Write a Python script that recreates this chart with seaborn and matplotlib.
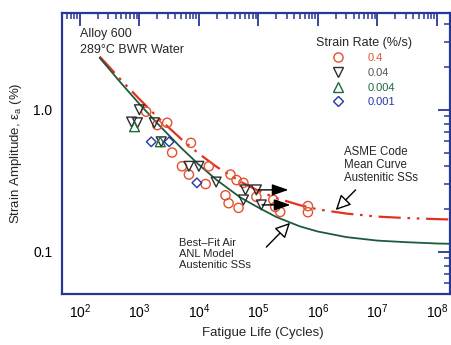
import matplotlib
matplotlib.use("Agg")
import matplotlib.pyplot as plt
import seaborn as sns
import numpy as np
import pandas as pd
from matplotlib.lines import Line2D
from matplotlib.ticker import LogLocator, NullFormatter, FixedLocator, FixedFormatter

# ---------------- data ----------------
rate_labels = ["0.4", "0.04", "0.004", "0.001"]

n_04 = [1300, 2000, 2930, 3550, 7360, 5200, 14700, 6800, 13000, 34000, 43000, 56000,
        28000, 31600, 46400, 92600, 178000, 192000, 233000, 680000, 680000]
e_04 = [0.97, 0.78, 0.81, 0.50, 0.585, 0.40, 0.40, 0.35, 0.30, 0.35, 0.32, 0.306,
        0.25, 0.22, 0.204, 0.244, 0.232, 0.207, 0.191, 0.21, 0.19]

n_004 = [1000, 740, 930, 1780, 2330, 6800, 10000, 19500, 60700, 92600, 56200, 112000]
e_004 = [1.0, 0.82, 0.81, 0.81, 0.595, 0.40, 0.40, 0.31, 0.273, 0.273, 0.232, 0.214]

n_0004 = [830, 2250]
e_0004 = [0.76, 0.595]

n_0001 = [1585, 3160, 9260]
e_0001 = [0.595, 0.595, 0.306]

# runout specimens (arrow start, arrow end, strain)
runout_start = [100000, 115000]
runout_end = [320000, 345000]
runout_eps = [0.273, 0.214]

# curves
curve_n = [215, 300, 500, 1000, 2000, 5000, 1e4, 2e4, 5e4, 1e5, 2e5, 5e5, 1e6, 3e6, 1e7, 3e7, 1e8, 1.6e8]
anl_eps = [2.32, 1.97, 1.53, 1.10, 0.803, 0.541, 0.411, 0.320, 0.241, 0.205, 0.176, 0.151,
           0.139, 0.127, 0.120, 0.117, 0.1145, 0.114]
asme_eps = [2.37, 2.04, 1.61, 1.19, 0.89, 0.625, 0.491, 0.396, 0.312, 0.269, 0.239, 0.213,
            0.199, 0.186, 0.177, 0.173, 0.170, 0.169]

xtick_vals = [1e2, 1e3, 1e4, 1e5, 1e6, 1e7, 1e8]
xtick_labels = ["$10^{2}$", "$10^{3}$", "$10^{4}$", "$10^{5}$", "$10^{6}$", "$10^{7}$", "$10^{8}$"]
ytick_vals = [0.1, 1.0]
ytick_labels = ["0.1", "1.0"]

# ---------------- style ----------------
sns.set_style("white")
plt.rcParams["font.family"] = ["Liberation Sans", "DejaVu Sans"]
plt.rcParams["mathtext.default"] = "regular"

AX_BLUE = "#2a3796"
RED = "#e4502c"
BLACK = "#2e2e2e"
GREEN = "#1f6a3e"
BLUE = "#2238a8"
LINE_GREEN = "#1d5a40"
LINE_RED = "#e2321f"

fig = plt.figure(figsize=(4.52, 3.45), dpi=100)
ax = fig.add_axes([62 / 452, 51 / 345, 388 / 452, 281 / 345])
ax.set_xscale("log")
ax.set_yscale("log")

# curves
df_curve = pd.DataFrame({"N": curve_n, "anl": anl_eps, "asme": asme_eps})
sns.lineplot(data=df_curve, x="N", y="asme", ax=ax, color=LINE_RED, lw=1.6,
             estimator=None, sort=False)
ax.lines[-1].set_linestyle((0, (10, 3, 1.2, 3, 1.2, 3)))
sns.lineplot(data=df_curve, x="N", y="anl", ax=ax, color=LINE_GREEN, lw=1.3,
             estimator=None, sort=False)

# data points
series = [
    (n_04, e_04, "o", RED, 44),
    (n_004, e_004, "v", BLACK, 50),
    (n_0004, e_0004, "^", GREEN, 50),
    (n_0001, e_0001, "D", BLUE, 24),
]
for n, e, mk, col, s in series:
    sns.scatterplot(x=n, y=e, marker=mk, s=s, ax=ax, color=col, zorder=4)
    coll = ax.collections[-1]
    coll.set_facecolor("none")
    coll.set_edgecolor(col)
    coll.set_linewidth(1.0)

# runout arrows
for x0, x1, yv in zip(runout_start, runout_end, runout_eps):
    ax.annotate("", xy=(x1, yv), xytext=(x0, yv),
                arrowprops=dict(arrowstyle="-|>,head_length=1.0,head_width=0.35",
                                color="black", lw=1.0, shrinkA=0, shrinkB=0),
                zorder=5)

# annotation texts and hollow arrows
ax.text(2.8e6, 0.56, "ASME Code\nMean Curve\nAustenitic SSs",
        fontsize=8.3, ha="left", va="top", linespacing=1.15)
ax.annotate("", xy=(2.0e6, 0.197), xytext=(4.3e6, 0.273),
            arrowprops=dict(arrowstyle="-|>,head_length=0.9,head_width=0.45",
                            fc="white", ec="black", lw=1.0, shrinkA=0, shrinkB=0))
ax.text(4.6e3, 0.125, "Best\u2013Fit Air\nANL Model\nAustenitic SSs",
        fontsize=8, ha="left", va="top", linespacing=1.15)
ax.annotate("", xy=(3.4e5, 0.160), xytext=(1.36e5, 0.108),
            arrowprops=dict(arrowstyle="-|>,head_length=0.9,head_width=0.45",
                            fc="white", ec="black", lw=1.0, shrinkA=0, shrinkB=0))

ax.text(100, 3.43, "Alloy 600", fontsize=9, ha="left", va="center")
ax.text(100, 2.62, "289\u00b0C BWR Water", fontsize=9, ha="left", va="center")

# legend
handles = [
    Line2D([], [], ls="none", marker="o", mfc="none", mec=RED, ms=6.6, mew=1.0),
    Line2D([], [], ls="none", marker="v", mfc="none", mec=BLACK, ms=6.6, mew=1.0),
    Line2D([], [], ls="none", marker="^", mfc="none", mec=GREEN, ms=6.6, mew=1.0),
    Line2D([], [], ls="none", marker="D", mfc="none", mec=BLUE, ms=4.7, mew=1.0),
]
leg = ax.legend(handles, rate_labels, title="Strain Rate (%/s)", loc="upper left",
                bbox_to_anchor=(0.655, 0.916), frameon=False, fontsize=8,
                title_fontsize=9, handlelength=1.0, handletextpad=2.2,
                labelspacing=0.42, borderpad=0, borderaxespad=0)
for t, c in zip(leg.get_texts(), [RED, "#555555", GREEN, BLUE]):
    t.set_color(c)

# axes
ax.set_xlim(10 ** 1.7, 10 ** 8.22)
ax.set_ylim(0.0505, 4.8)
ax.xaxis.set_major_locator(FixedLocator(xtick_vals))
ax.xaxis.set_major_formatter(FixedFormatter(xtick_labels))
ax.xaxis.set_minor_locator(LogLocator(base=10, subs=np.arange(2, 10)))
ax.xaxis.set_minor_formatter(NullFormatter())
ax.yaxis.set_major_locator(FixedLocator(ytick_vals))
ax.yaxis.set_major_formatter(FixedFormatter(ytick_labels))
ax.yaxis.set_minor_locator(LogLocator(base=10, subs=np.arange(2, 10)))
ax.yaxis.set_minor_formatter(NullFormatter())

for sp in ax.spines.values():
    sp.set_color(AX_BLUE)
    sp.set_linewidth(1.6)
ax.tick_params(which="both", direction="in", top=True, right=True, color=AX_BLUE,
               labelcolor="black")
ax.tick_params(which="major", length=9, width=1.3, labelsize=10, pad=6)
ax.tick_params(which="minor", length=4.5, width=1.1)
ax.tick_params(axis="y", which="major", labelsize=10, pad=7)

ax.set_xlabel("Fatigue Life (Cycles)", fontsize=9.5)
ax.set_ylabel("Strain Amplitude, \u03b5$_a$ (%)", fontsize=9.5)
ax.xaxis.set_label_coords(0.518, -0.118)
ax.yaxis.set_label_coords(-0.098, 0.5)

fig.savefig("out.png", dpi=100)
